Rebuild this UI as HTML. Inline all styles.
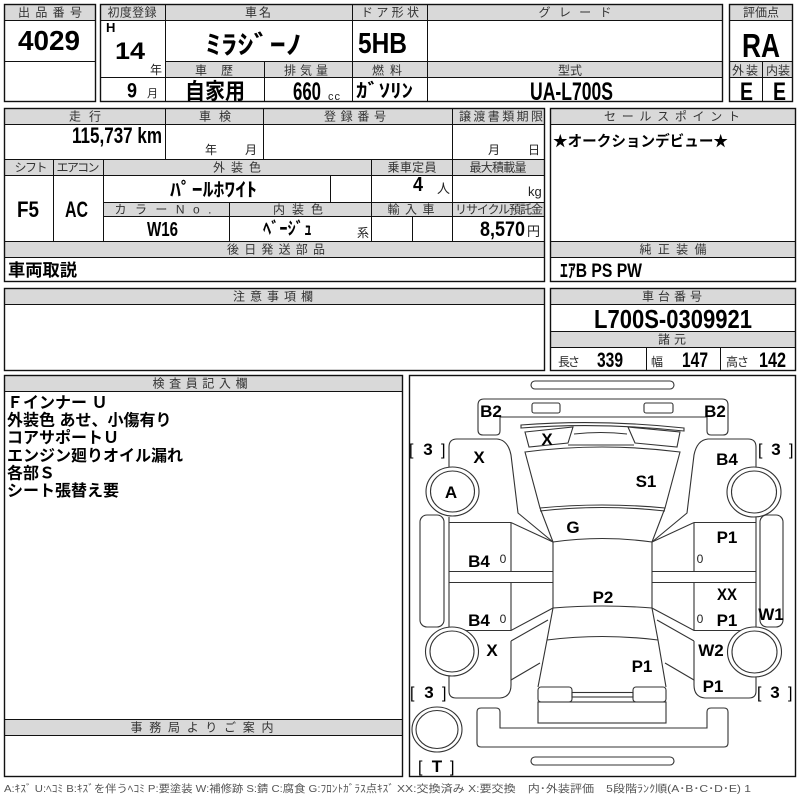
<!DOCTYPE html>
<html><head><meta charset="utf-8"><style>
html,body{margin:0;padding:0;background:#fff;}
svg{display:block}
.hd{font-family:"Liberation Sans","Noto Sans CJK JP",sans-serif;font-size:12px;fill:#333;text-anchor:middle}
.v{font-family:"Liberation Sans","Noto Sans CJK JP",sans-serif;font-weight:bold;fill:#000}
.r{font-family:"Liberation Sans","Noto Sans CJK JP",sans-serif;fill:#222}
.lb{font-family:"Liberation Sans","Noto Sans CJK JP",sans-serif;font-weight:bold;font-size:17px;fill:#000;text-anchor:middle}
.br{font-family:"Liberation Sans","Noto Sans CJK JP",sans-serif;font-size:16px;fill:#000}
.ft{font-family:"Liberation Sans","Noto Sans CJK JP",sans-serif;font-size:10.5px;fill:#555}
</style></head><body>
<svg width="800" height="800" viewBox="0 0 800 800" xmlns="http://www.w3.org/2000/svg">
<rect width="800" height="800" fill="#fff"/>
<!-- header fills -->
<g fill="#d9d9d9">
<rect x="4" y="4" width="92" height="16"/>
<rect x="100" y="4" width="622" height="16"/>
<rect x="165" y="62" width="557" height="16"/>
<rect x="729" y="4" width="63" height="16"/>
<rect x="729" y="62" width="63" height="16"/>
<rect x="4" y="108" width="540" height="16"/>
<rect x="4" y="159" width="540" height="16"/>
<rect x="103" y="202" width="441" height="14"/>
<rect x="4" y="241" width="540" height="16"/>
<rect x="550" y="108" width="245" height="16"/>
<rect x="550" y="241" width="245" height="16"/>
<rect x="4" y="288" width="540" height="16"/>
<rect x="550" y="288" width="245" height="16"/>
<rect x="550" y="331" width="245" height="16"/>
<rect x="4" y="375" width="398" height="16"/>
<rect x="4" y="719" width="398" height="16"/>
</g>
<!-- table lines -->
<g fill="none" stroke="#111" stroke-width="1.4">
<rect x="4.5" y="4.5" width="91" height="97"/>
<rect x="100.5" y="4.5" width="622" height="97"/>
<rect x="729.5" y="4.5" width="63" height="97"/>
<rect x="4.5" y="108.5" width="540" height="173"/>
<rect x="550.5" y="108.5" width="245" height="173"/>
<rect x="4.5" y="288.5" width="540" height="82"/>
<rect x="550.5" y="288.5" width="245" height="82"/>
<rect x="4.5" y="375.5" width="398" height="401"/>
<rect x="409.5" y="375.5" width="386" height="401"/>
</g>
<g fill="none" stroke="#111" stroke-width="1">
<path d="M4 20.5H96M4 61.5H96"/>
<path d="M100 20.5H722M165 61.5H722M100 77.5H722M165.5 4V102M352.5 4V102M427.5 4V102M264.5 62V102"/>
<path d="M729 20.5H792M729 61.5H792M729 77.5H792M762.5 62V102"/>
<path d="M4 124.5H544M4 159.5H544M4 175.5H544M103 202.5H544M103 216.5H544M4 241.5H544M4 257.5H544"/>
<path d="M165.5 108V159M263.5 108V159M452.5 108V241M53.5 159V241M103.5 159V241M371.5 159V241M330.5 175V202M229.5 202V241M412.5 216V241"/>
<path d="M550 124.5H795M550 241.5H795M550 257.5H795"/>
<path d="M4 304.5H544M550 304.5H795M550 331.5H795M550 347.5H795M646.5 347V370M720.5 347V370"/>
<path d="M4 391.5H402M4 719.5H402M4 735.5H402"/>
</g>
<!-- header labels -->
<text class="hd" x="50" y="16.5" textLength="64">出品番号</text>
<text class="hd" x="132" y="16.5" textLength="49">初度登録</text>
<text class="hd" x="258" y="16.5" textLength="26">車名</text>
<text class="hd" x="390" y="16.5" textLength="58">ドア形状</text>
<text class="hd" x="575" y="16.5" textLength="73">グレード</text>
<text class="hd" x="761" y="16.5" textLength="36">評価点</text>
<text class="hd" x="214" y="74.5" textLength="38">車歴</text>
<text class="hd" x="306" y="74.5" textLength="44">排気量</text>
<text class="hd" x="387" y="74.5" textLength="30">燃料</text>
<text class="hd" x="570" y="74.5" textLength="24">型式</text>
<text class="hd" x="745" y="74.5" textLength="26">外装</text>
<text class="hd" x="778" y="74.5" textLength="24">内装</text>
<text class="hd" x="85" y="120.5" textLength="32">走行</text>
<text class="hd" x="215" y="120.5" textLength="32">車検</text>
<text class="hd" x="355" y="120.5" textLength="62">登録番号</text>
<text class="hd" x="501" y="120.5" textLength="84">譲渡書類期限</text>
<text class="hd" x="672" y="120.5" textLength="136">セールスポイント</text>
<text class="hd" x="31" y="171.5" textLength="33">シフト</text>
<text class="hd" x="78" y="171.5" textLength="43">エアコン</text>
<text class="hd" x="237" y="171.5" textLength="48">外装色</text>
<text class="hd" x="412" y="171.5" textLength="49">乗車定員</text>
<text class="hd" x="498" y="171.5" textLength="57">最大積載量</text>
<text class="hd" x="163" y="213.5" textLength="97">カラーNo.</text>
<text class="hd" x="298" y="213.5" textLength="50">内装色</text>
<text class="hd" x="411" y="213.5" textLength="47">輸入車</text>
<text class="hd" x="499" y="213.5" textLength="88">リサイクル預託金</text>
<text class="hd" x="276" y="253.5" textLength="98">後日発送部品</text>
<text class="hd" x="673" y="253.5" textLength="67">純正装備</text>
<text class="hd" x="273" y="300.5" textLength="80">注意事項欄</text>
<text class="hd" x="672" y="300.5" textLength="60">車台番号</text>
<text class="hd" x="672" y="343.5" textLength="28">諸元</text>
<text class="hd" x="200" y="387.5" textLength="95">検査員記入欄</text>
<text class="hd" x="202" y="731.5" textLength="143">事務局よりご案内</text>
<!-- values -->
<text class="v" x="18" y="50" font-size="28" textLength="62" lengthAdjust="spacingAndGlyphs">4029</text>
<text class="v" x="106" y="32" font-size="13">H</text>
<text class="v" x="115" y="59" font-size="24" textLength="30" lengthAdjust="spacingAndGlyphs">14</text>
<text class="r" x="150" y="74" font-size="12">年</text>
<text class="v" x="127" y="97.5" font-size="21" textLength="10" lengthAdjust="spacingAndGlyphs">9</text>
<text class="r" x="147" y="97" font-size="11">月</text>
<text class="v" x="205" y="54" font-size="26" textLength="97" lengthAdjust="spacingAndGlyphs">ﾐﾗｼﾞｰﾉ</text>
<text class="v" x="358" y="53" font-size="29" textLength="49" lengthAdjust="spacingAndGlyphs">5HB</text>
<text class="v" x="742" y="57" font-size="33" textLength="38" lengthAdjust="spacingAndGlyphs">RA</text>
<text class="v" x="740" y="100" font-size="25" textLength="13" lengthAdjust="spacingAndGlyphs">E</text>
<text class="v" x="773" y="100" font-size="25" textLength="13" lengthAdjust="spacingAndGlyphs">E</text>
<text class="v" x="185" y="99" font-size="22" textLength="60" lengthAdjust="spacingAndGlyphs">自家用</text>
<text class="v" x="293" y="100" font-size="25" textLength="28" lengthAdjust="spacingAndGlyphs">660</text>
<text class="r" x="328" y="100" font-size="11" textLength="12">cc</text>
<text class="v" x="356" y="97" font-size="19" textLength="57" lengthAdjust="spacingAndGlyphs">ｶﾞｿﾘﾝ</text>
<text class="v" x="530" y="100" font-size="25" textLength="83" lengthAdjust="spacingAndGlyphs">UA-L700S</text>
<text class="v" x="72" y="143" font-size="22" textLength="90" lengthAdjust="spacingAndGlyphs">115,737 km</text>
<text class="r" x="205" y="154" font-size="12">年</text>
<text class="r" x="245" y="154" font-size="12">月</text>
<text class="r" x="488" y="154" font-size="12">月</text>
<text class="r" x="528" y="154" font-size="12">日</text>
<text class="v" x="17" y="217" font-size="22" textLength="22" lengthAdjust="spacingAndGlyphs">F5</text>
<text class="v" x="65" y="217" font-size="22" textLength="23" lengthAdjust="spacingAndGlyphs">AC</text>
<text class="v" x="170" y="196" font-size="19" textLength="87" lengthAdjust="spacingAndGlyphs">ﾊﾟｰﾙﾎﾜｲﾄ</text>
<text class="v" x="147" y="236" font-size="20" textLength="31" lengthAdjust="spacingAndGlyphs">W16</text>
<text class="v" x="263" y="235" font-size="18" textLength="49" lengthAdjust="spacingAndGlyphs">ﾍﾞｰｼﾞｭ</text>
<text class="r" x="357" y="237" font-size="12">系</text>
<text class="v" x="413" y="191" font-size="20" textLength="10" lengthAdjust="spacingAndGlyphs">4</text>
<text class="r" x="437" y="193" font-size="13">人</text>
<text class="r" x="528" y="196" font-size="13">kg</text>
<text class="v" x="480" y="236" font-size="21" textLength="45" lengthAdjust="spacingAndGlyphs">8,570</text>
<text class="r" x="527" y="236" font-size="13">円</text>
<text class="v" x="8" y="276" font-size="17" textLength="69" lengthAdjust="spacingAndGlyphs">車両取説</text>
<text class="v" x="553" y="146" font-size="15" textLength="175" lengthAdjust="spacingAndGlyphs">★オークションデビュー★</text>
<text class="v" x="560" y="277" font-size="19" textLength="82" lengthAdjust="spacingAndGlyphs">ｴｱB PS PW</text>
<text class="v" x="594" y="328" font-size="26" textLength="158" lengthAdjust="spacingAndGlyphs">L700S-0309921</text>
<text class="r" x="558" y="366" font-size="12" textLength="22">長さ</text>
<text class="v" x="597" y="367" font-size="21" textLength="26" lengthAdjust="spacingAndGlyphs">339</text>
<text class="r" x="651" y="366" font-size="12">幅</text>
<text class="v" x="682" y="367" font-size="21" textLength="26" lengthAdjust="spacingAndGlyphs">147</text>
<text class="r" x="726" y="366" font-size="12" textLength="23">高さ</text>
<text class="v" x="759" y="367" font-size="21" textLength="27" lengthAdjust="spacingAndGlyphs">142</text>
<!-- inspector notes -->
<g class="v" font-size="16">
<text x="7" y="408">Ｆインナー Ｕ</text>
<text x="7" y="425.5">外装色 あせ、小傷有り</text>
<text x="7" y="443">コアサポートＵ</text>
<text x="7" y="461">エンジン廻りオイル漏れ</text>
<text x="7" y="478.5">各部Ｓ</text>
<text x="7" y="496">シート張替え要</text>
</g>
<!-- car diagram -->
<g fill="none" stroke="#333" stroke-width="1.1">
<rect x="531" y="381" width="143" height="8" rx="4"/>
<path d="M484 399H722Q728 399 728 405V430Q728 435 723 435H711Q707 435 707 431V417H500V431Q500 435 496 435H483Q478 435 478 430V405Q478 399 484 399Z"/>
<rect x="532" y="403" width="28" height="10" rx="2"/>
<rect x="644" y="403" width="29" height="10" rx="2"/>
<path d="M521 425Q600 419 684 428L684 431Q600 422 521 428Z"/>
<path d="M525 432L573 427L568 443L529 447Z"/>
<path d="M628 427L680 432L677 447L635 443Z"/>
<path d="M574 434Q601 431 627 434M568 445L634 445"/>
<path d="M525 452Q602 442 680 452L665 508Q602 502 540 508Z"/>
<path d="M540 511Q602 504 665 511"/>
<path d="M540 508L553 542Q602 535 652 542L665 508"/>
<path d="M553 542V608M652 542V608"/>
<path d="M553 608Q602 604 652 608"/>
<path d="M553 608L547 640L538 687M652 608L658 640L666 687"/>
<path d="M547 640Q602 633 658 640"/>
<rect x="538" y="687" width="34" height="15" rx="3"/>
<rect x="633" y="687" width="33" height="15" rx="3"/>
<rect x="572" y="692.5" width="61" height="4.5"/>
<rect x="538" y="702" width="128" height="21"/>
<path d="M481 708H496Q500 708 500 712V728H707V712Q707 708 711 708H724Q728 708 728 712V743Q728 747 724 747H481Q477 747 477 743V712Q477 708 481 708Z"/>
<rect x="531" y="757" width="143" height="8" rx="4"/>
<rect x="420" y="515" width="24" height="112" rx="7"/>
<rect x="760" y="515" width="23" height="112" rx="7"/>
<g id="side">
<path d="M449 467V447Q449 439 457 439H497Q508 440 511 455L518 513L553 542"/>
<path d="M449 517V628"/>
<path d="M449 522.5H511L553 542M511 522V571M449 571.5H553M449 582.5H553M511 582V630M449 630.5H511L553 608M511 641L548 620M511 641V680L540 663"/>
<path d="M449 676V691Q449 698 456 698H500Q511 697 511 685V680"/>
</g>
<use href="#side" transform="matrix(-1 0 0 1 1205 0)"/>
</g>
<g fill="#fff" stroke="#333" stroke-width="1.1">
<ellipse cx="452.5" cy="491.5" rx="26.5" ry="24.5"/>
<ellipse cx="452.5" cy="491.5" rx="22" ry="20.5"/>
<ellipse cx="754" cy="492" rx="27" ry="25"/>
<ellipse cx="754" cy="492" rx="22.5" ry="21"/>
<ellipse cx="452" cy="651.5" rx="26.5" ry="24.5"/>
<ellipse cx="452" cy="651.5" rx="22" ry="20.5"/>
<ellipse cx="754.5" cy="652" rx="27" ry="25"/>
<ellipse cx="754.5" cy="652" rx="22.5" ry="21"/>
<ellipse cx="437" cy="729.5" rx="25" ry="22.5"/>
<ellipse cx="437" cy="729.5" rx="21" ry="19"/>
</g>
<!-- diagram labels -->
<text class="lb" x="491" y="417">B2</text>
<text class="lb" x="715" y="417">B2</text>
<text class="lb" x="547" y="445">X</text>
<text class="lb" x="479" y="463">X</text>
<text class="lb" x="727" y="465">B4</text>
<text class="lb" x="451" y="498">A</text>
<text class="lb" x="646" y="487">S1</text>
<text class="lb" x="573" y="533">G</text>
<text class="lb" x="479" y="567">B4</text>
<text class="lb" x="727" y="543">P1</text>
<text class="lb" x="603" y="603">P2</text>
<text class="lb" x="727" y="600" textLength="20" lengthAdjust="spacingAndGlyphs">XX</text>
<text class="lb" x="479" y="626">B4</text>
<text class="lb" x="727" y="626">P1</text>
<text class="lb" x="771" y="620">W1</text>
<text class="lb" x="492" y="656">X</text>
<text class="lb" x="711" y="656">W2</text>
<text class="lb" x="642" y="672">P1</text>
<text class="lb" x="713" y="692">P1</text>
<g class="r" font-size="12" text-anchor="middle">
<text x="503" y="563">0</text><text x="700" y="563">0</text>
<text x="503" y="623">0</text><text x="700" y="623">0</text>
</g>
<text class="br" x="409" y="455">[</text><text class="lb" x="428" y="455">3</text><text class="br" x="441" y="455">]</text>
<text class="br" x="758" y="455">[</text><text class="lb" x="776" y="455">3</text><text class="br" x="789" y="455">]</text>
<text class="br" x="410" y="698">[</text><text class="lb" x="429" y="698">3</text><text class="br" x="442" y="698">]</text>
<text class="br" x="757" y="698">[</text><text class="lb" x="775" y="698">3</text><text class="br" x="788" y="698">]</text>
<text class="br" x="418" y="772">[</text><text class="lb" x="437" y="772">T</text><text class="br" x="450" y="772">]</text>
<!-- footer legend -->
<text class="ft" x="4" y="792" textLength="390" lengthAdjust="spacingAndGlyphs">A:ｷｽﾞ U:ﾍｺﾐ B:ｷｽﾞを伴うﾍｺﾐ P:要塗装 W:補修跡 S:錆 C:腐食 G:ﾌﾛﾝﾄｶﾞﾗｽ点ｷｽﾞ</text>
<text class="ft" x="397" y="792" textLength="354" lengthAdjust="spacingAndGlyphs">XX:交換済み X:要交換　内･外装評価　5段階ﾗﾝｸ順(A･B･C･D･E) 1</text>
</svg>
</body></html>
